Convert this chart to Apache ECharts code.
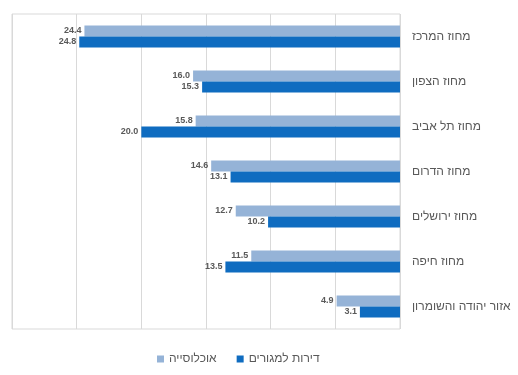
<!DOCTYPE html>
<html><head><meta charset="utf-8">
<script src="https://cdn.jsdelivr.net/npm/echarts@6/dist/echarts.min.js"></script>
<style>html,body{margin:0;padding:0;background:#fff}#c{width:518px;height:375px}</style>
</head><body><div id="c"></div>
<script>
const categories = ['מחוז המרכז','מחוז הצפון','מחוז תל אביב','מחוז הדרום','מחוז ירושלים','מחוז חיפה','אזור יהודה והשומרון'];
const population = [24.4, 16.0, 15.8, 14.6, 12.7, 11.5, 4.9];
const apartments = [24.8, 15.3, 20.0, 13.1, 10.2, 13.5, 3.1];
const seriesNames = ['אוכלוסייה','דירות למגורים'];

const chart = echarts.init(document.getElementById('c'), null, {renderer:'canvas'});
const labelStyle = {show:true, position:'left', distance:3, color:'#595959', fontSize:9, fontWeight:'bold',
  fontFamily:'Liberation Sans, DejaVu Sans, sans-serif', formatter: p => p.value.toFixed(1)};
chart.setOption({
  animation:false,
  textStyle:{fontFamily:'Liberation Sans, DejaVu Sans, sans-serif'},
  legend:{data:seriesNames, left:152, top:348, itemWidth:7, itemHeight:7, itemGap:20,
    textStyle:{color:'#595959', fontSize:12}, icon:'rect'},
  grid:{left:12, right:118, top:14, bottom:46, show:true, borderColor:'#d9d9d9', borderWidth:1},
  xAxis:{type:'value', inverse:true, min:0, max:30, interval:5,
    axisLabel:{show:false}, axisLine:{show:false}, axisTick:{show:false},
    splitLine:{lineStyle:{color:'#d9d9d9'}}},
  yAxis:{type:'category', data:categories, inverse:true, position:'right',
    axisLine:{show:false}, axisTick:{show:false},
    axisLabel:{margin:12, color:'#595959', fontSize:12, align:'left'}},
  series:[
    {name:seriesNames[0], type:'bar', data:population, barWidth:11, barGap:'0%',
     itemStyle:{color:'#95b3d7'}, label:labelStyle},
    {name:seriesNames[1], type:'bar', data:apartments, barWidth:11, barGap:'0%',
     itemStyle:{color:'#0f6cc0'}, label:labelStyle}
  ]
});
</script></body></html>
